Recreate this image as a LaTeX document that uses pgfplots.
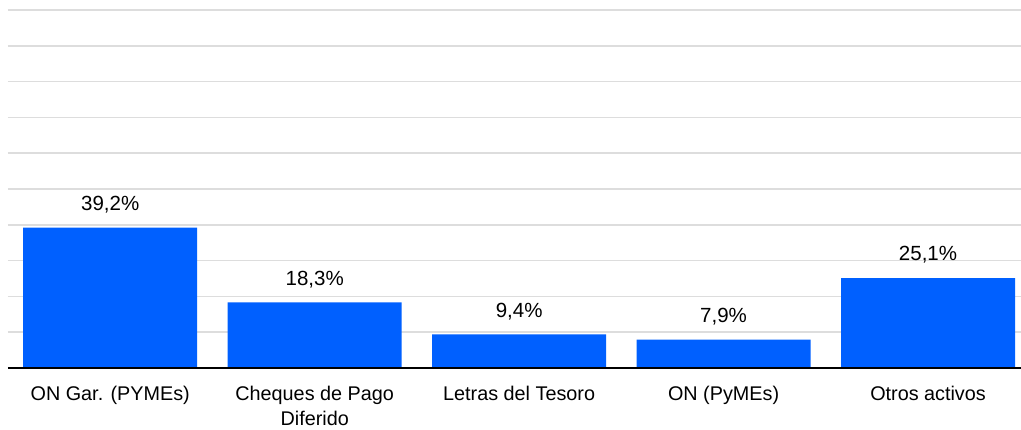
\documentclass[border=0pt]{standalone}
\usepackage{pgfplots}
\pgfplotsset{compat=1.18}
\usepackage{fontspec}
\setmainfont{Liberation Sans}
\definecolor{barblue}{RGB}{0,96,255}
\definecolor{gridgray}{RGB}{221,221,221}
\begin{document}
\begin{tikzpicture}[x=1pt,y=1pt]
\useasboundingbox (-8pt,-62pt) rectangle (1013pt,368pt);
\begin{axis}[
  at={(0,0)}, anchor=south west,
  scale only axis,
  width=1013pt, height=358pt,
  xmin=-0.5, xmax=4.455,
  ymin=0, ymax=100,
  axis line style={draw=none},
  ytick={10,20,...,100},
  yticklabels={},
  major tick length=0pt,
  ymajorgrids,
  grid style={gridgray, line width=1.6pt},
  xtick=data,
  xticklabels={ON Gar. (PYMEs),{Cheques de Pago\\Diferido},Letras del Tesoro,ON (PyMEs),Otros activos},
  xticklabel style={font=\fontsize{19.8}{25}\selectfont, align=center, text depth=0pt, yshift=-15pt},
  clip=false,
]
\addplot[ybar, bar width=174pt, fill=barblue, draw=none,
  nodes near coords, point meta=explicit symbolic,
  every node near coord/.append style={font=\fontsize{20.5}{22}\selectfont, black, anchor=south, yshift=11pt}]
  table[meta=lab] {
x y lab
0 39.2 39,2\%
1 18.3 18,3\%
2 9.4 9,4\%
3 7.9 7,9\%
4 25.1 25,1\%
};
\draw[black, line width=1.8pt] (axis cs:-0.5,0) -- (axis cs:4.455,0);
\end{axis}
\end{tikzpicture}
\end{document}
